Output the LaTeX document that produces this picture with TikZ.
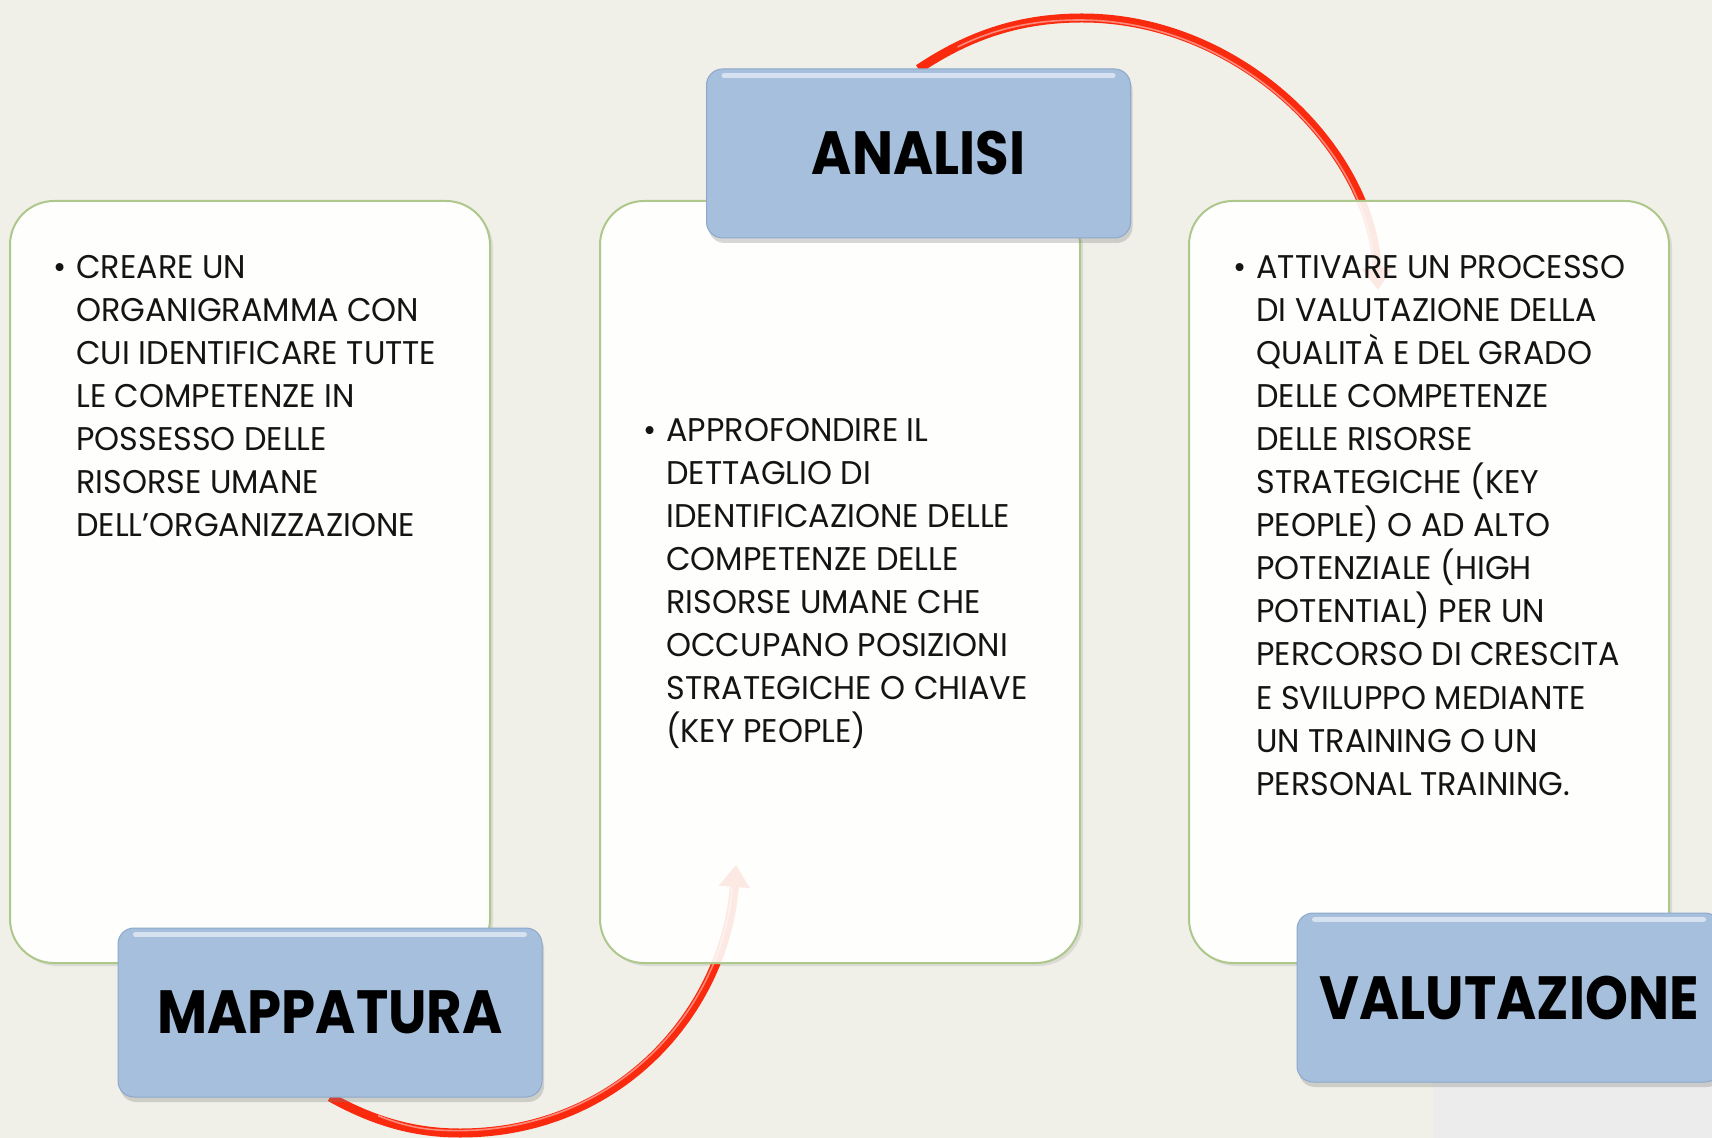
\documentclass[tikz,border=0pt]{standalone}
\usepackage{fontspec}
\setmainfont{Poppins}[FakeStretch=0.97]
\newfontfamily\titlefont{Poppins}[FakeStretch=0.895]
\usetikzlibrary{arrows.meta,shadows}
\definecolor{bg}{HTML}{F0F0E9}
\definecolor{bgb}{HTML}{ECECEC}
\definecolor{boxgreen}{HTML}{AEC78A}
\definecolor{boxfill}{HTML}{FEFEFC}
\definecolor{tblue}{HTML}{A5BFDD}
\definecolor{tbluedark}{HTML}{8DA8CB}
\definecolor{arrred}{HTML}{FA2A0E}
\begin{document}
\begin{tikzpicture}[x=0.5pt,y=-0.5pt,
  whitebox/.style={rounded corners=22pt, fill=boxfill, draw=none, outer sep=0pt,
    minimum width=240pt, minimum height=381pt, inner sep=0pt,
    drop shadow={shadow xshift=1.5pt, shadow yshift=-1.5pt, opacity=0.18}},
  boxveil/.style={rounded corners=22pt, fill=boxfill, fill opacity=0.9, draw=boxgreen, line width=1pt},
  titlebox/.style={rounded corners=8pt, fill=tblue, draw=tbluedark, line width=0.5pt,
    minimum width=212pt, minimum height=84.5pt, inner sep=0pt,
    font=\titlefont\bfseries\fontsize{30.5pt}{36pt}\selectfont,
    drop shadow={shadow xshift=1pt, shadow yshift=-2.5pt, opacity=0.3}},
  bodytext/.style={inner sep=0pt, align=left, anchor=north west,
    font=\fontsize{16.4pt}{21.55pt}\selectfont, text=black!92},
  redarrow/.style={draw=arrred, line width=4.5pt, -{Triangle[width=15pt,length=11pt]}},
  tubelight/.style={draw=white, opacity=0.45, line width=0.8pt},
  glint/.style={white, opacity=0.55, line width=2.5pt, line cap=round}]
\useasboundingbox (0,0) rectangle (1712,1138);
\clip (0,0) rectangle (1712,1138);
\fill[bg] (0,0) rectangle (1712,1138);
\fill[bgb] (1433,1000) rectangle (1712,1138);

\coordinate (mapc) at (330,1012.5);
\coordinate (anac) at (918.5,153.5);
\coordinate (valc) at (1509,997.5);
\coordinate (a1end) at (736,865);
\coordinate (a2end) at (1378,290);

% white boxes (opaque base with shadow)
\node[whitebox] (mapbox) at (250,582) {};
\node[whitebox] (anabox) at (840,582) {};
\node[whitebox] (valbox) at (1429,582) {};

% arrows (behind the veil of the boxes)
\draw[redarrow] (330,1097) .. controls (375,1122) and (415,1133) .. (460,1133)
   .. controls (620,1133) and (725,1010) .. (a1end);
\draw[tubelight, xshift=-1pt, yshift=1.2pt] (380,1118) .. controls (410,1130) and (430,1133) .. (460,1133)
   .. controls (620,1133) and (725,1010) .. (734,890);
\draw[redarrow] (918.5,69) .. controls (965,38) and (1015,18) .. (1082,18)
   .. controls (1240,18) and (1372,150) .. (a2end);
\draw[tubelight, xshift=-1.2pt, yshift=-1pt] (960,45) .. controls (1000,25) and (1040,18) .. (1082,18)
   .. controls (1240,18) and (1372,150) .. (1376,265);

% veil over the boxes
\foreach \b in {mapbox,anabox,valbox}{
  \path[boxveil] (\b.south west) rectangle (\b.north east);
}

% title boxes
\node[titlebox] (ana) at (anac) {ANALISI};
\node[titlebox] (map) at (mapc) {MAPPATURA};
\node[titlebox] (val) at (valc) {VALUTAZIONE};
\foreach \b in {ana,map,val}{
  \draw[glint] ([xshift=9pt,yshift=-3.5pt]\b.north west) -- ([xshift=-9pt,yshift=-3.5pt]\b.north east);
}

% texts
\node[bodytext] (maptext) at (76,254.5) {\llap{\textbullet\hspace{5pt}}CREARE UN\\
ORGANIGRAMMA CON\\
CUI IDENTIFICARE TUTTE\\
LE COMPETENZE IN\\
POSSESSO DELLE\\
RISORSE UMANE\\
DELL’ORGANIZZAZIONE};
\node[bodytext] (anatext) at (666,417.5) {\llap{\textbullet\hspace{5pt}}APPROFONDIRE IL\\
DETTAGLIO DI\\
IDENTIFICAZIONE DELLE\\
COMPETENZE DELLE\\
RISORSE UMANE CHE\\
OCCUPANO POSIZIONI\\
STRATEGICHE O CHIAVE\\
(KEY PEOPLE)};
\node[bodytext] (valtext) at (1256,254.5) {\llap{\textbullet\hspace{5pt}}ATTIVARE UN PROCESSO\\
DI VALUTAZIONE DELLA\\
QUALITÀ E DEL GRADO\\
DELLE COMPETENZE\\
DELLE RISORSE\\
STRATEGICHE (KEY\\
PEOPLE) O AD ALTO\\
POTENZIALE (HIGH\\
POTENTIAL) PER UN\\
PERCORSO DI CRESCITA\\
E SVILUPPO MEDIANTE\\
UN TRAINING O UN\\
PERSONAL TRAINING.};
\end{tikzpicture}
\end{document}
